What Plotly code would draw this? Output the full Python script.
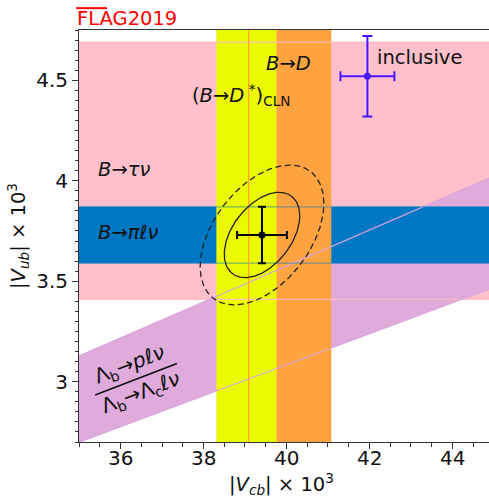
import numpy as np
import plotly.graph_objects as go

# ---------------- data (|V| x 10^3) ----------------
vub_btau = [3.41, 4.69]          # B -> tau nu band
vub_bpi = [3.59, 3.87]           # B -> pi l nu band
vcb_bd = [39.09, 41.08]          # B -> D band
vcb_bdstar = [38.31, 39.76]      # (B -> D*)_CLN band
ratio_lambda = [0.0771, 0.0894]  # |Vub/Vcb| from Lambda_b decays
incl_vcb, incl_vcb_err = 41.95, 0.65
incl_vub, incl_vub_err = 4.52, 0.20
fit_vcb, fit_vcb_err = 39.41, 0.60
fit_vub, fit_vub_err = 3.73, 0.14
fit_rho = 0.45
chi2_levels = [2.30, 6.18]

x_range = [35, 44.88]
y_range = [2.70, 4.75]
x_ticks = [36, 38, 40, 42, 44]
x_ticklabels = ["36", "38", "40", "42", "44"]
y_ticks = [3, 3.5, 4, 4.5]

# ---------------- colours ----------------
c_pink = "#FFC0CB"
c_purple = "#E0AADA"
c_blue = "#0077C3"
c_orange = "#FFA340"
c_yellow = "#ECFA00"
c_incl = "#4A14FF"

FONT = "DejaVu Sans"
fig = go.Figure()

XLO, XHI, YLO, YHI = 30, 50, 2.0, 5.5


def hband(y, color):
    fig.add_trace(go.Scatter(x=[XLO, XHI, XHI, XLO, XLO], y=[y[0], y[0], y[1], y[1], y[0]],
                             fill="toself", fillcolor=color, mode="lines", line=dict(width=0),
                             hoverinfo="skip", showlegend=False))


def vband(x, color):
    fig.add_trace(go.Scatter(x=[x[0], x[1], x[1], x[0], x[0]], y=[YLO, YLO, YHI, YHI, YLO],
                             fill="toself", fillcolor=color, mode="lines", line=dict(width=0),
                             hoverinfo="skip", showlegend=False))


def line(xs, ys, color, width=1.2, dash="solid"):
    fig.add_trace(go.Scatter(x=xs, y=ys, mode="lines", line=dict(color=color, width=width, dash=dash),
                             hoverinfo="skip", showlegend=False))


# fills
hband(vub_btau, c_pink)
fig.add_trace(go.Scatter(x=[XLO, XHI, XHI, XLO, XLO],
                         y=[ratio_lambda[0] * XLO, ratio_lambda[0] * XHI, ratio_lambda[1] * XHI,
                            ratio_lambda[1] * XLO, ratio_lambda[0] * XLO],
                         fill="toself", fillcolor=c_purple, mode="lines", line=dict(width=0),
                         hoverinfo="skip", showlegend=False))
hband(vub_bpi, c_blue)
vband(vcb_bd, c_orange)
vband(vcb_bdstar, c_yellow)

# edges drawn on top
for yv in vub_btau:
    line([XLO, XHI], [yv, yv], "rgba(255,185,200,0.9)")
for r in ratio_lambda:
    line([XLO, XHI], [r * XLO, r * XHI], "rgba(215,165,220,0.95)")
for yv in vub_bpi:
    line([XLO, XHI], [yv, yv], "rgba(0,119,195,0.5)")
line([vcb_bd[0], vcb_bd[0]], [YLO, YHI], "rgba(255,150,50,0.9)")

# ellipses
t = np.linspace(0, 2 * np.pi, 361)
for lev, dash in zip(chi2_levels, ["solid", "6px,3.5px"]):
    k = np.sqrt(lev)
    ex = fit_vcb + fit_vcb_err * k * np.cos(t)
    ey = fit_vub + fit_vub_err * k * (fit_rho * np.cos(t) + np.sqrt(1 - fit_rho ** 2) * np.sin(t))
    line(ex, ey, "#222222", width=1.3, dash=dash)

# points
fig.add_trace(go.Scatter(x=[fit_vcb], y=[fit_vub], mode="markers",
                         marker=dict(color="black", size=7),
                         error_x=dict(type="constant", value=fit_vcb_err, color="black", thickness=2, width=4),
                         error_y=dict(type="constant", value=fit_vub_err, color="black", thickness=2, width=4),
                         hoverinfo="skip", showlegend=False))
fig.add_trace(go.Scatter(x=[incl_vcb], y=[incl_vub], mode="markers",
                         marker=dict(color=c_incl, size=7),
                         error_x=dict(type="constant", value=incl_vcb_err, color=c_incl, thickness=2, width=5),
                         error_y=dict(type="constant", value=incl_vub_err, color=c_incl, thickness=2, width=5),
                         hoverinfo="skip", showlegend=False))

# fraction line for Lambda label
line([35.39, 37.36], [2.934, 3.090], "#111111", width=1.6)

TF = dict(family=FONT, size=19.5, color="#111111")
ann = [
    dict(x=40.04, y=4.581, text="<i>B</i>→<i>D</i>", xanchor="center", yanchor="middle"),
    dict(x=37.68, y=4.427, text="(<i>B</i>→<i>D</i><sup> *</sup>)<sub>CLN</sub>", xanchor="left", yanchor="middle"),
    dict(x=42.14, y=4.611, text="inclusive", xanchor="left", yanchor="middle"),
    dict(x=35.41, y=4.058, text="<i>B</i>→<i>τν</i>", xanchor="left", yanchor="middle"),
    dict(x=35.41, y=3.74, text="<i>B</i>→<i>πℓν</i>", xanchor="left", yanchor="middle"),
    dict(x=36.22, y=3.085, text="Λ<sub>b</sub>→<i>pℓν</i>", xanchor="center", yanchor="middle",
         textangle=-21, font=dict(family=FONT, size=20.5, color="#111111")),
    dict(x=36.50, y=2.942, text="Λ<sub>b</sub>→Λ<sub>c</sub><i>ℓν</i>", xanchor="center", yanchor="middle",
         textangle=-21, font=dict(family=FONT, size=20.5, color="#111111")),
]
for a in ann:
    a.setdefault("font", TF)
    a.update(xref="x", yref="y", showarrow=False)
    fig.add_annotation(**a)

# x tick labels (placed closer to the axis than plotly's default)
for xv, lab in zip(x_ticks, x_ticklabels):
    fig.add_annotation(xref="x", yref="paper", x=xv, y=0, xanchor="center", yanchor="middle",
                       yshift=-16, text=lab, showarrow=False,
                       font=dict(family=FONT, size=20, color="#111111"))

# axis titles
fig.add_annotation(xref="paper", yref="paper", x=0, y=0.5, xanchor="center", yanchor="middle",
                   xshift=-61, textangle=-90, showarrow=False,
                   text="|<i>V</i><sub><i>ub</i></sub>| × 10<sup>3</sup>",
                   font=dict(family=FONT, size=19.5, color="#111111"))
fig.add_annotation(xref="paper", yref="paper", x=0.5, y=0, xanchor="center", yanchor="middle",
                   xshift=-3, yshift=-42, showarrow=False,
                   text="|<i>V</i><sub><i>cb</i></sub>| × 10<sup>3</sup>",
                   font=dict(family=FONT, size=19.5, color="#111111"))

# FLAG logo text
fig.add_annotation(xref="paper", yref="paper", x=0, y=1, xanchor="left", yanchor="middle",
                   xshift=-4, yshift=12, text="FLAG2019", showarrow=False,
                   font=dict(family=FONT, size=19.5, color="#FF0000"))
fig.add_shape(type="line", xref="paper", yref="paper", x0=-0.007, x1=0.068, y0=1.053, y1=1.053,
              line=dict(color="#FF0000", width=2))

axis_common = dict(showgrid=False, zeroline=False, showline=True, linecolor="#333333", linewidth=1,
                   ticks="outside", ticklen=6, tickwidth=1, tickcolor="#333333",
                   tickfont=dict(family=FONT, size=20, color="#111111"))
fig.update_layout(
    width=489, height=497,
    margin=dict(l=79, r=0, t=30, b=55),
    paper_bgcolor="white", plot_bgcolor="white",
    xaxis=dict(range=x_range, tickvals=x_ticks, mirror=True, showticklabels=False,
               minor=dict(dtick=0.5, ticks="outside", ticklen=3.5, tickcolor="#333333"),
               **axis_common),
    yaxis=dict(range=y_range, tickvals=y_ticks,
               minor=dict(dtick=0.05, ticks="outside", ticklen=3.5, tickcolor="#333333"),
               **axis_common),
)

fig.write_html("out.html", config={"displayModeBar": False},
               post_script="document.body.style.margin='0';document.body.style.overflow='hidden';")
